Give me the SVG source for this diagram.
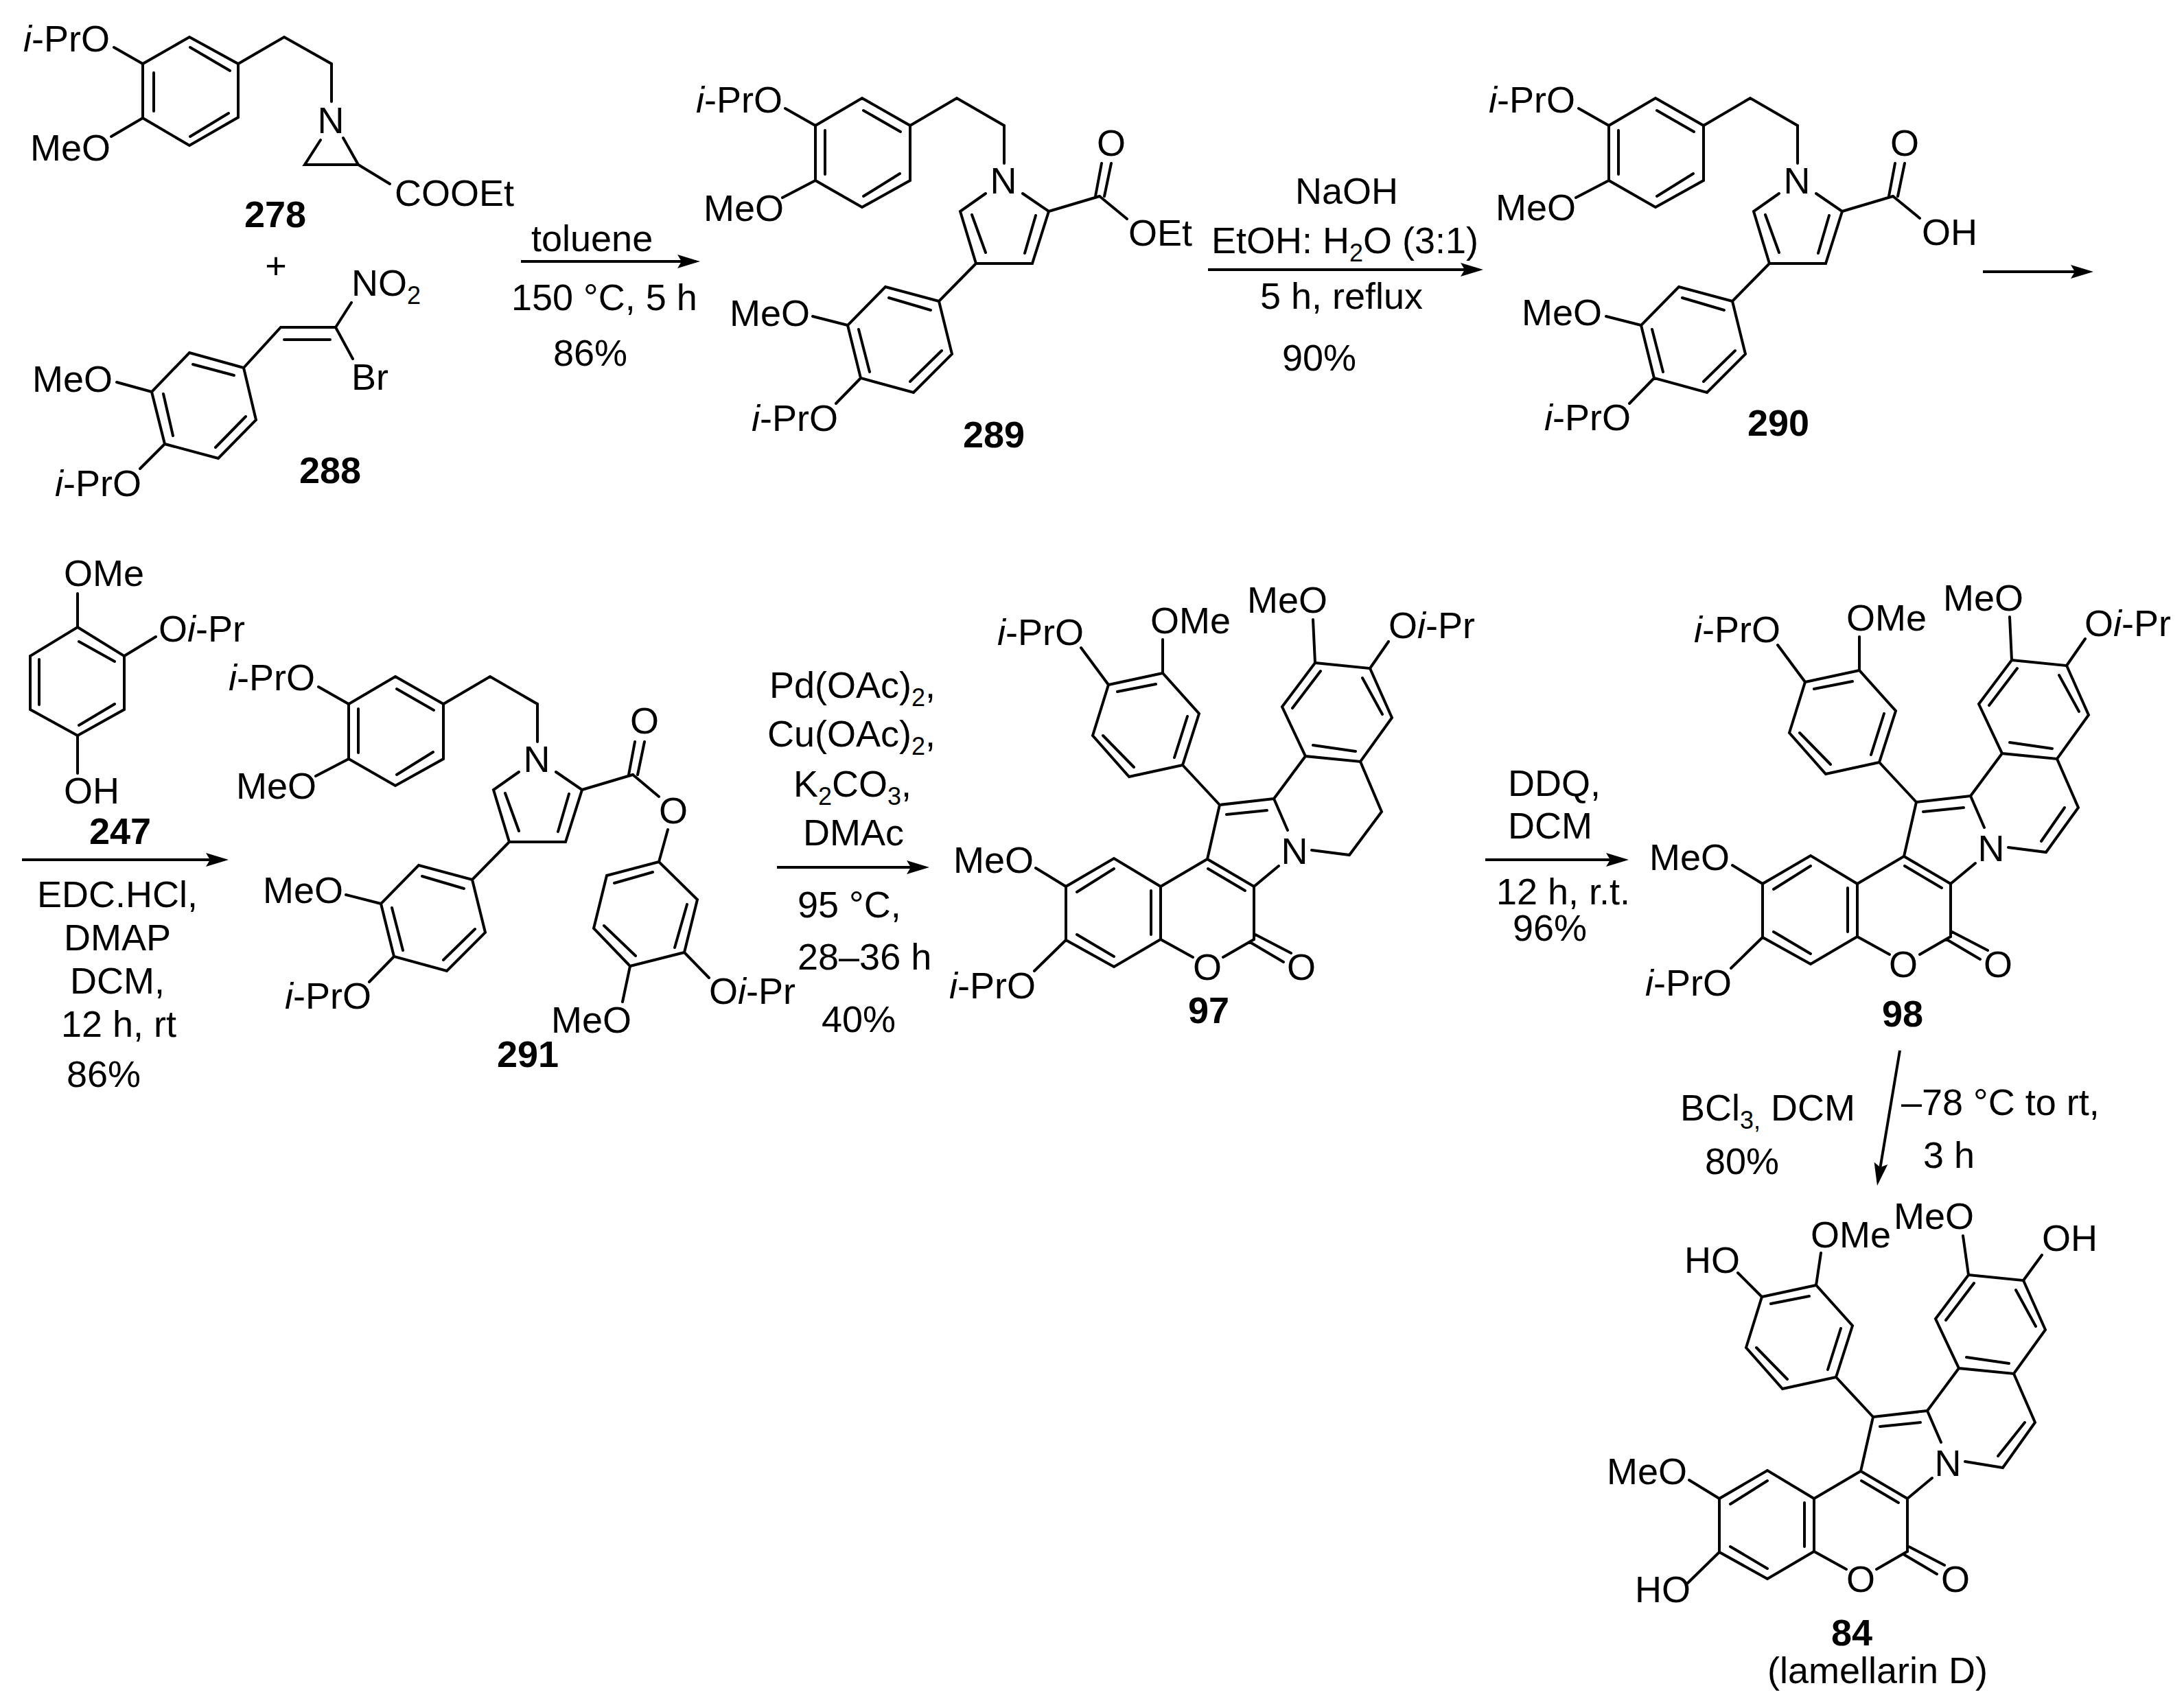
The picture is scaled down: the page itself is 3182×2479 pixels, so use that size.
<svg xmlns="http://www.w3.org/2000/svg" width="3182" height="2479" viewBox="0 0 3182 2479">
<style>
text{font-family:"Liberation Sans",Arial,sans-serif;font-size:54px;fill:#000}
.b{font-weight:700}
.i{font-style:italic}
.m{text-anchor:middle}
.s{font-size:36px}
.bond{fill:none;stroke:#000;stroke-width:4;stroke-linejoin:miter;stroke-linecap:round}
.arrow{fill:none;stroke:#000;stroke-width:4;marker-end:url(#head)}
</style>
<defs>
<marker id="head" markerUnits="userSpaceOnUse" markerWidth="36" markerHeight="24" refX="27" refY="12" orient="auto"><path d="M0 2L33 12L0 22L6 12Z" fill="#000"/></marker>
<path id="pyrrole-core" class="bond" d="M1256 143L1326 183V263L1256 302L1188 263V183ZM1258 161L1312 192M1202 190V254M1258 286L1311 253M1326 183L1394 143L1463 183V238M1188 183L1144 158M1188 263L1140 288M1436 282L1399 308L1422 384H1504L1528 308L1490 282M1416 313L1436 368M1509 314L1493 369M1422 384L1368 439L1290 418L1235 474L1254 551L1331 572L1387 516L1368 439M1295 434L1356 452M1251 480L1267 542M1326 556L1372 511M1235 474L1184 461M1254 551L1218 588M1528 308L1602 286M1596 286L1605 238M1609 286L1619 238"/>
<path id="lamellarin-core" class="bond" d="M1615 998L1694 981L1747 1040L1723 1115L1645 1132L1592 1072ZM1628 1008L1684 997M1730 1044L1711 1104M1652 1118L1607 1072M1723 1115L1777 1173M1916 966L1996 974L2028 1046L1982 1110L1902 1102L1868 1030ZM1883 1032L1924 978M1985 988L2014 1041M1913 1086L1975 1095M1902 1102L1856 1164M1777 1173L1856 1164M1787 1187L1846 1181M1856 1164L1876 1210M1777 1173L1759 1252L1827 1292M1760 1266L1814 1298M1827 1292L1863 1262M1759 1252L1691 1292M1827 1292V1369L1782 1395M1738 1395L1691 1369V1292M1677 1298V1362M1691 1292L1623 1251L1553 1292V1370L1623 1409L1691 1369M1569 1300L1623 1266M1569 1362L1623 1394M1829 1362L1881 1389M1821 1373L1870 1402M1509 1265L1553 1292M1507 1415L1553 1370"/>
<path id="lamellarin-subs" class="bond" d="M1575 944L1615 998M1694 932V981M1913 903L1916 966M2023 935L1996 974"/>
</defs>
<rect width="3182" height="2479" fill="#fff"/>

<g id="connectors">
<path class="arrow" d="M759 381H1014"/>
<path class="arrow" d="M1760 393H2155"/>
<path class="arrow" d="M2889 396H3044"/>
<path class="arrow" d="M32 1253H327"/>
<path class="arrow" d="M1132 1264H1348"/>
<path class="arrow" d="M2164 1253H2367"/>
<path class="arrow" d="M2768 1531L2736 1722"/>
</g>

<g id="mol-278">
<path class="bond" d="M276 54L347 93V171L276 212L208 172V93ZM277 69L335 103M224 106V162M277 199L333 165M347 93L414 54L483 93V148M166 69L208 93M208 172L162 199M467 204L444 240H522L500 201M522 240L568 268"/>
<text x="34" y="75"><tspan class="i">i</tspan>-PrO</text>
<text x="44" y="234">MeO</text>
<text x="482" y="194" class="m">N</text>
<text x="575" y="300">COOEt</text>
<text x="401" y="331" class="b m">278</text>
</g>
<g id="plus"><text x="402" y="406" class="m">+</text></g>
<g id="mol-288">
<path class="bond" d="M512 441L489 477L514 523M489 477H409L355 536M414 495H481M355 536L276 514L221 571L240 647L318 668L373 612ZM281 531L341 547M238 574L252 635M314 652L358 607M170 557L221 571M240 647L204 683"/>
<text x="512" y="431">NO<tspan class="s" dy="12">2</tspan></text>
<text x="512" y="568">Br</text>
<text x="47" y="571">MeO</text>
<text x="80" y="723"><tspan class="i">i</tspan>-PrO</text>
<text x="481" y="704" class="b m">288</text>
</g>
<g id="step-1">
<text x="774" y="366">toluene</text>
<text x="745" y="452">150 °C, 5 h</text>
<text x="806" y="533">86%</text>
</g>
<g id="mol-289">
<use href="#pyrrole-core"/>
<path class="bond" d="M1602 286L1642 319"/>
<text x="1014" y="164"><tspan class="i">i</tspan>-PrO</text>
<text x="1025" y="322">MeO</text>
<text x="1462" y="282" class="m">N</text>
<text x="1619" y="227" class="m">O</text>
<text x="1644" y="358">OEt</text>
<text x="1063" y="475">MeO</text>
<text x="1095" y="628"><tspan class="i">i</tspan>-PrO</text>
<text x="1448" y="652" class="b m">289</text>
</g>
<g id="step-2">
<text x="1962" y="297" class="m">NaOH</text>
<text x="1765" y="369">EtOH: H<tspan class="s" dy="12">2</tspan><tspan dy="-12">O (3:1)</tspan></text>
<text x="1836" y="450">5 h, reflux</text>
<text x="1868" y="540">90%</text>
</g>
<g id="mol-290">
<use href="#pyrrole-core" transform="translate(1156 0)"/>
<path class="bond" d="M2758 286L2797 318"/>
<text x="2169" y="164"><tspan class="i">i</tspan>-PrO</text>
<text x="2179" y="321">MeO</text>
<text x="2618" y="282" class="m">N</text>
<text x="2775" y="227" class="m">O</text>
<text x="2800" y="357">OH</text>
<text x="2217" y="474">MeO</text>
<text x="2250" y="627"><tspan class="i">i</tspan>-PrO</text>
<text x="2591" y="635" class="b m">290</text>
</g>
<g id="mol-247">
<path class="bond" d="M113 914L181 956V1034L113 1072L44 1034V956ZM115 935L167 964M57 961V1027M115 1057L167 1026M113 865V914M113 1072V1127M181 956L227 928"/>
<text x="93" y="854">OMe</text>
<text x="231" y="935">O<tspan class="i">i</tspan>-Pr</text>
<text x="93" y="1171">OH</text>
<text x="175" y="1230" class="b m">247</text>
</g>
<g id="step-3">
<text x="171" y="1322" class="m">EDC.HCl,</text>
<text x="171" y="1385" class="m">DMAP</text>
<text x="171" y="1448" class="m">DCM,</text>
<text x="173" y="1511" class="m">12 h, rt</text>
<text x="151" y="1584" class="m">86%</text>
</g>
<g id="mol-291">
<use href="#pyrrole-core" transform="translate(-680 843)"/>
<path class="bond" d="M922 1129L960 1161M973 1209L960 1256M960 1256L884 1276L865 1353L918 1408L997 1388L1016 1311ZM895 1287L951 1271M880 1349L926 1393M983 1381L1001 1318M997 1388L1033 1425M918 1408L907 1460"/>
<text x="333" y="1006"><tspan class="i">i</tspan>-PrO</text>
<text x="344" y="1164">MeO</text>
<text x="782" y="1125" class="m">N</text>
<text x="939" y="1069" class="m">O</text>
<text x="981" y="1200" class="m">O</text>
<text x="383" y="1316">MeO</text>
<text x="415" y="1470"><tspan class="i">i</tspan>-PrO</text>
<text x="1033" y="1463">O<tspan class="i">i</tspan>-Pr</text>
<text x="803" y="1505">MeO</text>
<text x="769" y="1555" class="b m">291</text>
</g>
<g id="step-4">
<text x="1121" y="1017">Pd(OAc)<tspan class="s" dy="12">2</tspan><tspan dy="-12">,</tspan></text>
<text x="1118" y="1088">Cu(OAc)<tspan class="s" dy="12">2</tspan><tspan dy="-12">,</tspan></text>
<text x="1156" y="1161">K<tspan class="s" dy="12">2</tspan><tspan dy="-12">CO</tspan><tspan class="s" dy="12">3</tspan><tspan dy="-12">,</tspan></text>
<text x="1170" y="1232">DMAc</text>
<text x="1162" y="1337">95 °C,</text>
<text x="1162" y="1413">28–36 h</text>
<text x="1197" y="1504">40%</text>
</g>
<g id="mol-97">
<use href="#lamellarin-core"/>
<use href="#lamellarin-subs"/>
<path class="bond" d="M1982 1110L2013 1183L1966 1246L1911 1239"/>
<text x="1453" y="940"><tspan class="i">i</tspan>-PrO</text>
<text x="1676" y="923">OMe</text>
<text x="1817" y="893">MeO</text>
<text x="2023" y="930">O<tspan class="i">i</tspan>-Pr</text>
<text x="1886" y="1259" class="m">N</text>
<text x="1389" y="1272">MeO</text>
<text x="1383" y="1455"><tspan class="i">i</tspan>-PrO</text>
<text x="1759" y="1428" class="m">O</text>
<text x="1896" y="1428" class="m">O</text>
<text x="1761" y="1491" class="b m">97</text>
</g>
<g id="step-5">
<text x="2197" y="1160">DDQ,</text>
<text x="2197" y="1222">DCM</text>
<text x="2180" y="1318">12 h, r.t.</text>
<text x="2204" y="1371">96%</text>
</g>
<g id="mol-98">
<use href="#lamellarin-core" transform="translate(1015 -4)"/>
<use href="#lamellarin-subs" transform="translate(1015 -4)"/>
<path class="bond" d="M2997 1106L3028 1177L2981 1242L2926 1235M3008 1177L2974 1226"/>
<text x="2468" y="936"><tspan class="i">i</tspan>-PrO</text>
<text x="2690" y="919">OMe</text>
<text x="2831" y="890">MeO</text>
<text x="3037" y="927">O<tspan class="i">i</tspan>-Pr</text>
<text x="2901" y="1255" class="m">N</text>
<text x="2403" y="1268">MeO</text>
<text x="2397" y="1451"><tspan class="i">i</tspan>-PrO</text>
<text x="2773" y="1424" class="m">O</text>
<text x="2911" y="1424" class="m">O</text>
<text x="2772" y="1496" class="b m">98</text>
</g>
<g id="step-6">
<text x="2448" y="1633">BCl<tspan class="s" dy="12">3,</tspan><tspan dy="-12"> DCM</tspan></text>
<text x="2484" y="1711">80%</text>
<text x="2770" y="1625">–78 °C to rt,</text>
<text x="2802" y="1702">3 h</text>
</g>
<g id="mol-84">
<use href="#lamellarin-core" transform="translate(952 892)"/>
<path class="bond" d="M2934 2002L2965 2073L2918 2139L2863 2130M2950 2073L2911 2122M2532 1855L2567 1890M2653 1826L2646 1873M2860 1801L2868 1858M2975 1829L2948 1866"/>
<text x="2638" y="1818">OMe</text>
<text x="2759" y="1791">MeO</text>
<text x="2454" y="1855">HO</text>
<text x="2975" y="1823">OH</text>
<text x="2838" y="2151" class="m">N</text>
<text x="2341" y="2163">MeO</text>
<text x="2382" y="2335">HO</text>
<text x="2711" y="2320" class="m">O</text>
<text x="2849" y="2320" class="m">O</text>
<text x="2698" y="2398" class="b m">84</text>
<text x="2575" y="2453">(lamellarin D)</text>
</g>
</svg>
